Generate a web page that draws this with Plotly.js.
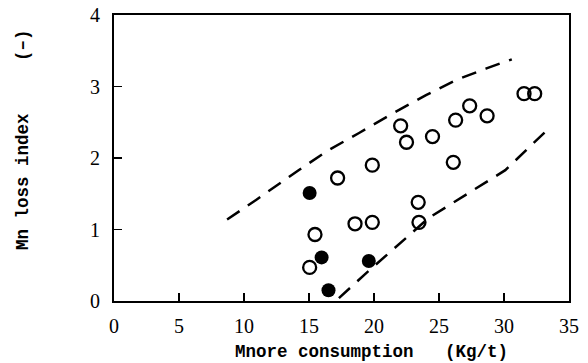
<!DOCTYPE html>
<html><head><meta charset="utf-8">
<script src="https://cdn.plot.ly/plotly-3.0.1.min.js"></script>
<style>body{margin:0;background:#fff}#g{width:588px;height:363px}</style>
</head><body><div id="g"></div>
<script>
// Open circles
const openX = [15.05, 15.46, 17.2, 19.87, 18.54, 19.87, 22.05, 22.5, 24.5, 23.4, 23.46, 26.1, 26.28, 27.36, 28.7, 31.54, 32.36];
const openY = [0.47, 0.93, 1.72, 1.90, 1.08, 1.10, 2.45, 2.22, 2.30, 1.38, 1.10, 1.94, 2.53, 2.73, 2.59, 2.90, 2.90];
// Filled circles
const filledX = [15.05, 15.97, 16.5, 19.6];
const filledY = [1.51, 0.61, 0.15, 0.56];
// Upper dashed bound
const upperX = [8.7, 10.9, 14.2, 16.5, 18.85, 21.4, 24.0, 26.3, 28.6, 30.6];
const upperY = [1.14, 1.41, 1.83, 2.11, 2.35, 2.62, 2.88, 3.09, 3.25, 3.38];
// Lower dashed bound
const lowerX = [17.3, 19.4, 24.2, 27.6, 30.1, 33.2];
const lowerY = [0.04, 0.39, 1.16, 1.55, 1.83, 2.37];
const xTicks = [0, 5, 10, 15, 20, 25, 30, 35];
const yTicks = [0, 1, 2, 3, 4];
const xTitle = 'Mnore consumption\u00a0\u00a0\u00a0(Kg/t)';
const yTitle = 'Mn loss index\u00a0\u00a0\u00a0\u00a0\u00a0(\u2013)';

const dashLine = {color: '#000', width: 2.5, dash: '15px,10px'};
const traces = [
  {x: upperX, y: upperY, mode: 'lines', line: dashLine, hoverinfo: 'skip'},
  {x: lowerX, y: lowerY, mode: 'lines', line: dashLine, hoverinfo: 'skip'},
  {x: openX, y: openY, mode: 'markers', marker: {symbol: 'circle-open', size: 13, color: '#000', line: {width: 2.3, color: '#000'}}},
  {x: filledX, y: filledY, mode: 'markers', marker: {symbol: 'circle', size: 14, color: '#000'}}
];
const tickFont = {family: 'Liberation Serif, serif', size: 20, color: '#000'};
const titleFont = {family: 'Liberation Mono, monospace', size: 17.5, color: '#000', weight: 'bold'};
const layout = {
  width: 588, height: 363,
  margin: {l: 114, r: 19, t: 15, b: 62},
  showlegend: false,
  paper_bgcolor: '#fff', plot_bgcolor: '#fff',
  xaxis: {
    range: [0, 35], tickvals: xTicks, ticktext: xTicks.map(String),
    ticks: 'inside', ticklen: 8, tickwidth: 1.5, tickcolor: '#000',
    showline: true, mirror: true, linecolor: '#000', linewidth: 2,
    showgrid: false, zeroline: false, tickfont: tickFont, ticklabelstandoff: 6
  },
  yaxis: {
    range: [0, 4], tickvals: yTicks, ticktext: yTicks.map(String),
    ticks: 'inside', ticklen: 8, tickwidth: 1.5, tickcolor: '#000',
    showline: true, mirror: true, linecolor: '#000', linewidth: 2,
    showgrid: false, zeroline: false, tickfont: tickFont, ticklabelstandoff: 8
  },
  annotations: [
    {text: xTitle, xref: 'paper', yref: 'paper', x: 0.2615, y: -0.178, xanchor: 'left', yanchor: 'middle', showarrow: false, font: titleFont},
    {text: yTitle, xref: 'paper', yref: 'paper', x: -0.2, y: 0.563, xanchor: 'center', yanchor: 'middle', textangle: -90, showarrow: false, font: titleFont}
  ]
};
Plotly.newPlot('g', traces, layout, {staticPlot: true, displayModeBar: false});
</script></body></html>
